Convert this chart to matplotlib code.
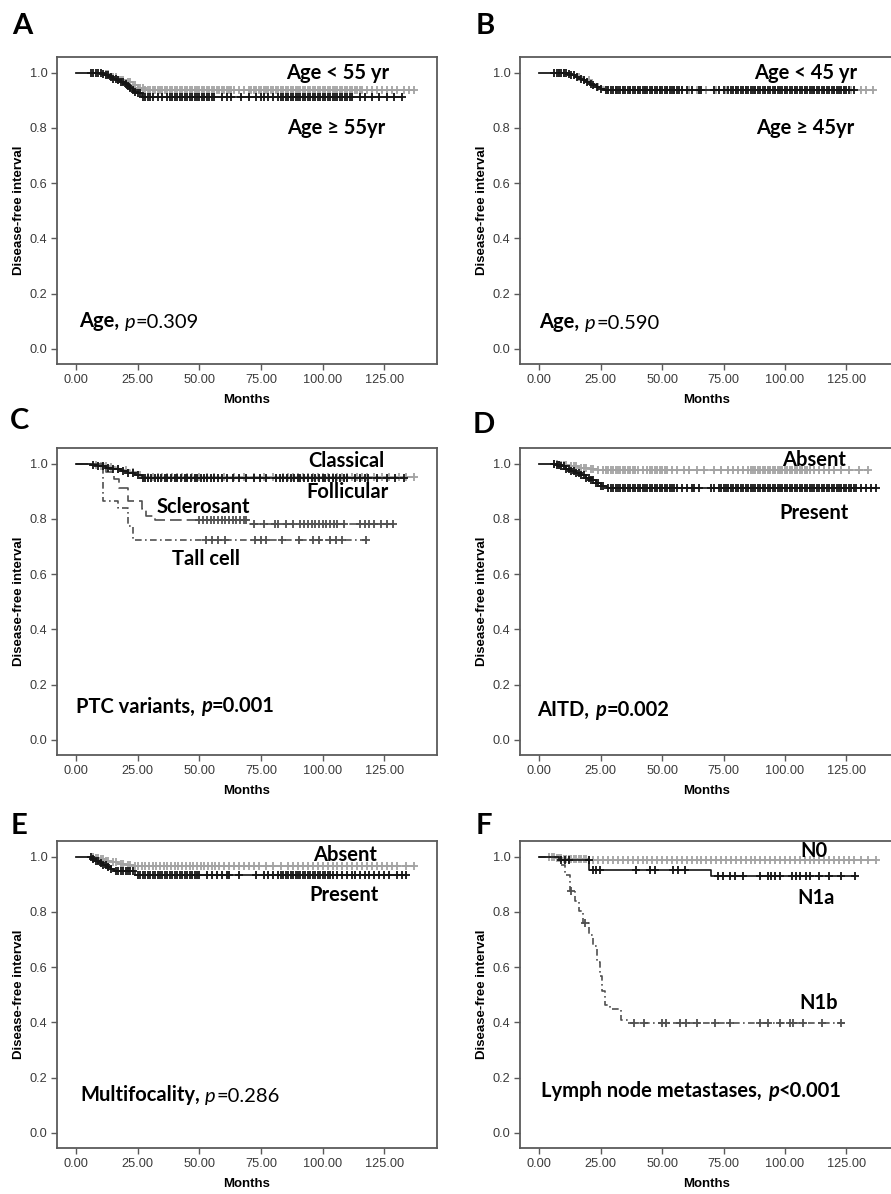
import numpy as np
import matplotlib.pyplot as plt

plt.rcParams['font.family'] = ['Liberation Sans', 'DejaVu Sans']
TXT = 'Lato'
W, H = 891, 1194

BLACK = '#151515'
GRAY = '#a3a3a3'
DASH = '#505050'

# ---------------- data (months, survival) ----------------
# A: age 55
a_old_t = [10.5, 12, 13.5, 15, 16.5, 18, 19.5, 21, 22, 23, 24, 25, 26.5]
a_old_s = [0.995, 0.99, 0.984, 0.978, 0.972, 0.966, 0.96, 0.953, 0.946, 0.939, 0.932, 0.925, 0.912]
a_old_end = 132
a_old_cens = [6, 7, 8, 9, 10, 11, 12, 13, 14, 15, 16, 17, 18, 19, 20, 21, 22, 23, 24, 25, 26,
              27, 28, 29, 30, 31, 33, 35, 37, 38, 39, 40, 41, 42, 43, 44, 45, 46, 47, 48, 49, 50,
              51, 52, 53, 54, 55, 56, 59, 61, 63, 67, 70, 73, 75, 76, 78, 80, 82, 83, 84, 85, 86,
              87, 88, 89, 90, 91, 92, 93, 94, 95, 96, 97, 98, 99, 100, 101, 102, 103, 104, 105,
              106, 107, 108, 109, 110, 111, 112, 115, 117, 120, 123, 126, 129, 132]
a_young_t = [11, 14, 17, 20, 23, 25, 27.5]
a_young_s = [0.995, 0.985, 0.975, 0.965, 0.955, 0.945, 0.936]
a_young_end = 137
a_young_cens = [12, 13, 15, 16, 18, 19, 21, 22, 24, 25, 26, 27, 28, 29, 30, 31, 32, 33, 34, 35,
                36, 37, 38, 39, 40, 41, 42, 43, 44, 45, 46, 47, 48, 49, 50, 51, 52, 53, 54, 55,
                56, 57, 58, 59, 60, 61, 62, 63, 64, 66, 68, 70, 71, 72, 73, 74, 75, 76, 77, 78,
                79, 80, 81, 82, 83, 84, 85, 86, 87, 88, 89, 90, 91, 92, 93, 94, 95, 96, 97, 98,
                99, 100, 101, 102, 103, 104, 105, 106, 107, 108, 109, 110, 111, 112, 113, 114,
                115, 116, 118, 120, 122, 124, 126, 128, 130, 133, 135, 137]

# B: age 45
b_old_t = [11.5, 13, 14.5, 16, 17.5, 19, 20.5, 22, 23.5, 25, 26.5]
b_old_s = [0.995, 0.99, 0.984, 0.978, 0.972, 0.966, 0.96, 0.954, 0.948, 0.942, 0.937]
b_old_end = 128
b_old_cens = [6, 7, 8, 9, 10, 11, 12, 13, 14, 15.5, 17, 18, 19.5, 21, 22, 23.5, 25, 27, 28, 29,
              30, 31, 32, 33, 34, 35, 36, 37, 38, 39, 40, 41, 42, 43, 44, 45, 46, 47, 48, 49, 50,
              51, 52, 53, 54, 55, 56, 57, 58, 60, 62, 65, 66, 71, 73, 75, 77, 78, 79, 80, 81, 82,
              83, 84, 85, 86, 87, 88, 89, 90, 91, 92, 93, 94, 95, 96, 97, 98, 99, 100, 101, 102,
              103, 104, 105, 106, 107, 108, 109, 110, 111, 112, 113, 114, 115, 116, 117, 118,
              119, 120, 121, 122, 123, 124, 125, 126, 128]
b_young_t = [12, 15, 18, 21, 24, 26.5]
b_young_s = [0.993, 0.983, 0.972, 0.961, 0.95, 0.938]
b_young_end = 136
b_young_cens = [8, 10, 16, 20, 24, 28, 31, 34, 37, 40, 43, 46, 49, 52, 55, 58, 61, 64, 68, 72,
                76, 80, 84, 88, 92, 96, 100, 104, 108, 112, 116, 120, 124, 127, 131, 133, 136]

# C: PTC variants
c_class_t = [7, 10, 13, 16, 19, 22, 25, 27]
c_class_s = [0.996, 0.992, 0.987, 0.982, 0.976, 0.969, 0.96, 0.953]
c_class_end = 137
c_class_cens = [8, 10, 12, 14, 17, 20, 23, 26, 29, 31, 33, 35, 37, 39, 41, 43, 45, 47, 50, 53,
                56, 60, 64, 68, 72, 76, 80, 84, 86, 88, 90, 92, 94, 96, 98, 100, 102, 104, 106,
                108, 110, 112, 114, 116, 118, 121, 124, 127, 131, 134, 137]
c_foll_t = [6, 9, 12, 15, 18, 21, 24, 26.5]
c_foll_s = [0.995, 0.99, 0.985, 0.98, 0.975, 0.968, 0.958, 0.95]
c_foll_end = 133
c_foll_cens = [7, 9, 11, 13, 15, 17, 19, 21, 23, 25, 27, 28, 29, 30.5, 32, 33, 34.5, 36, 37, 38.5,
               40, 41, 42.5, 44, 45, 46.5, 48, 49, 50.5, 52, 53, 54.5, 56, 57.5, 59, 61, 63.5, 66,
               69, 72, 74.5, 77, 81, 82.5, 84, 85.5, 87, 88.5, 90, 91, 92.5, 94, 95.5, 97, 98.5,
               100, 101, 102.5, 104, 105.5, 107, 108.5, 110, 113, 115, 117, 118.5, 122, 126,
               129.5, 133]
c_scl_t = [12, 15.5, 17.5, 21, 26.5, 28.5, 32, 69.8]
c_scl_s = [0.969, 0.944, 0.911, 0.864, 0.836, 0.81, 0.797, 0.782]
c_scl_end = 129
c_scl_cens = [50, 51.5, 53, 54.5, 56, 57.5, 59, 60.5, 62, 63.5, 65, 66.5, 68, 69, 72, 76, 80.5,
              82, 85, 88, 91, 92.5, 94, 95.5, 97, 98.5, 100, 101.5, 103, 104.5, 106, 108.5, 115,
              117, 119, 121, 123.5, 126, 128.5]
c_tall_t = [11, 17, 21, 23]
c_tall_s = [0.865, 0.84, 0.775, 0.725]
c_tall_end = 118
c_tall_cens = [52.5, 55, 57.5, 60.5, 72.5, 75, 77, 83.5, 90.5, 96, 98.5, 103, 105.5, 108, 117.5]

# D: AITD
d_pres_t = [7, 9, 11, 13, 15, 17, 19, 21, 23, 25, 27.5]
d_pres_s = [0.995, 0.99, 0.982, 0.975, 0.967, 0.958, 0.95, 0.94, 0.93, 0.92, 0.911]
d_pres_end = 137
d_pres_cens = [6, 7, 8, 9, 10, 11, 12, 13, 14, 15, 16, 17, 18, 19, 20, 21, 22, 23, 24, 25, 26,
               28, 29, 30, 31, 32, 33, 34, 35, 36, 37, 38, 39, 40, 41, 42, 43, 44, 45, 46, 47, 48,
               49, 50, 51, 52, 53, 54, 55, 56, 58, 60, 62, 63, 65, 70, 71, 73, 74, 75, 76, 77, 78,
               79, 80, 81, 82, 83, 84, 85, 86, 87, 88, 89, 90, 91, 92, 93, 94, 95, 96, 97, 98, 99,
               100, 101, 102, 103, 104, 105, 106, 107, 108, 109, 110, 111, 112, 113, 114, 115,
               116, 117, 118, 119, 120, 121, 122, 123, 124, 125, 126, 127, 128, 129, 131, 133,
               135, 137]
d_abs_t = [8, 12, 16, 20, 24]
d_abs_s = [0.995, 0.99, 0.985, 0.98, 0.977]
d_abs_end = 134
d_abs_cens = [6, 7, 8, 9, 10, 11, 13, 14, 15, 17, 18, 19, 21, 22, 24, 26, 27, 28, 29, 30, 31, 32,
              33, 34, 35, 36, 37, 38, 39, 40, 42, 44, 45, 46, 47, 48, 49, 50, 51, 52, 54, 56, 59,
              61, 64, 67, 71, 74, 77, 79, 81, 83, 85, 86, 87, 88, 89, 90, 91, 92, 93, 94, 95, 96,
              97, 98, 99, 100, 101, 102, 103, 104, 105, 106, 107, 108, 109, 110, 112, 114, 116,
              118, 120, 123, 126, 130, 134]

# E: multifocality
e_pres_t = [6.5, 8, 9.5, 11, 12.5, 14, 15.5, 24]
e_pres_s = [0.993, 0.986, 0.978, 0.97, 0.962, 0.955, 0.949, 0.933]
e_pres_end = 134
e_pres_cens = [6, 7, 8, 9, 10, 11, 12, 13, 14, 16, 17, 18, 19, 20, 21, 22, 23, 25, 26, 27, 28,
               29, 30, 31, 32, 33, 34, 35, 36, 37, 38, 39, 40, 41, 42, 43, 44, 45, 46, 47, 48, 49,
               50, 53, 55, 57, 59, 61, 62, 66, 73, 76, 78, 80, 82, 83, 84, 85, 86, 87, 88, 89, 90,
               91, 92, 93, 94, 95, 96, 97, 98, 99, 100, 101, 102, 103, 104, 106, 108, 110, 112,
               113, 115, 117, 119, 121, 123, 125, 127, 130, 132, 134]
e_abs_t = [8, 10, 12, 14, 17, 20, 23]
e_abs_s = [0.995, 0.99, 0.985, 0.98, 0.975, 0.97, 0.965]
e_abs_end = 137
e_abs_cens = [7, 8, 9, 10, 11, 12, 13, 15, 16, 18, 19, 21, 22, 24, 25, 26.5, 28, 29.5, 31, 32.5,
              34, 35.5, 37, 38.5, 40, 41.5, 43, 44.5, 46, 47.5, 49, 50.5, 52, 53.5, 55, 56.5, 58,
              60, 62, 64, 66, 68, 70, 72, 74, 77, 80, 83, 86, 88, 90, 92, 94, 96, 98, 100, 102,
              104, 106, 108, 110, 112, 114, 116, 118, 120, 122, 124, 126, 128, 130, 134, 137]

# F: lymph node metastases
f_n0_t = [7, 10, 14, 20]
f_n0_s = [0.997, 0.993, 0.99, 0.987]
f_n0_end = 137
f_n0_cens = [4, 5, 6, 7, 8, 9, 10, 11, 12, 13, 14, 15, 16, 17, 18, 19, 20, 22, 24, 26, 28, 30,
             32, 34, 36, 38, 40, 42, 44, 46, 48, 50, 52, 54, 56, 58, 60, 62, 64, 66, 68, 70, 72,
             74, 76, 78, 80, 82, 84, 86, 88, 90, 92, 94, 96, 98, 100, 102, 104, 106, 108, 110,
             112, 114, 116, 118, 120, 122, 124, 126, 128, 131, 134, 137]
f_n1a_t = [8, 20.4, 70]
f_n1a_s = [0.987, 0.951, 0.932]
f_n1a_end = 128.4
f_n1a_cens = [9, 10.5, 12, 20, 21.8, 23, 24.6, 39.5, 45, 47, 54.4, 56.4, 59.2, 72.8, 74.8, 77.5,
              79.5, 83, 89.7, 93, 94.5, 95.8, 97.8, 103, 104.5, 106, 108.7, 110, 114, 118, 123,
              128.4]
f_n1b_t = [9, 10.5, 12.3, 14.4, 16, 17.8, 20, 21.9, 23.5, 24.6, 25.5, 26.6, 28.6, 33.4, 36.1]
f_n1b_s = [0.97, 0.935, 0.875, 0.84, 0.803, 0.76, 0.718, 0.676, 0.62, 0.567, 0.515, 0.464,
           0.45, 0.41, 0.398]
f_n1b_end = 125
f_n1b_cens = [12.8, 18.5, 38.5, 42.6, 50, 51.4, 57.4, 59.5, 64.2, 71.6, 77.7, 89.9, 93.2, 98,
              102, 103.4, 107.4, 114.9, 123]

x_ticks = [0, 25, 50, 75, 100, 125]
y_ticks = [0.0, 0.2, 0.4, 0.6, 0.8, 1.0]


def km(ax, times, surv, end, cens, color, dashes=None, z=2, lw=1.2):
    times = np.asarray(times, float)
    surv = np.asarray(surv, float)
    x = np.r_[0, times, end]
    y = np.r_[1, surv, surv[-1]]
    line, = ax.step(x, y, where='post', color=color, lw=lw, zorder=z)
    if dashes:
        line.set_dashes(dashes)
    c = np.asarray(cens, float)
    idx = np.searchsorted(times, c, side='right')
    cy = np.r_[1, surv][idx]
    ax.plot(c, cy, ls='none', marker='+', ms=5.5, mew=1.3, color=color, zorder=z)


def rich(ax, x, y, parts, size=14.5):
    t = None
    for s, style, gap in parts:
        kw = dict(fontsize=size, family=TXT, color='black',
                  fontweight='bold' if 'b' in style else 'normal',
                  fontstyle='italic' if 'i' in style else 'normal')
        if t is None:
            t = ax.text(x, y, s, va='baseline', ha='left', **kw)
        else:
            t = ax.annotate(s, xy=(1, 0), xycoords=t, xytext=(gap, 0),
                            textcoords='offset points', va='bottom', ha='left', **kw)


def label(ax, x, y, s, size=14.5):
    ax.text(x, y, s, ha='center', va='center', fontsize=size, family=TXT,
            fontweight='bold', color='black')


fig = plt.figure(figsize=(W / 100, H / 100), dpi=100)

cols = [(57, 437, -7.8, 146.4), (520, 893, -7.9, 144.0)]
rows = [57, 448, 841]
letters = [('A', 12, 34), ('B', 476, 34), ('C', 10, 429), ('D', 473, 433),
           ('E', 11, 834), ('F', 476, 834)]


def make_ax(ci, ri):
    l, r, x0, x1 = cols[ci]
    t = rows[ri]
    b = t + 307
    ax = fig.add_axes([l / W, 1 - b / H, (r - l) / W, (b - t) / H])
    ax.set_xlim(x0, x1)
    ax.set_ylim(-0.055, 1.057)
    ax.set_xticks(x_ticks)
    ax.set_xticklabels(['%.2f' % v for v in x_ticks])
    ax.set_yticks(y_ticks)
    ax.set_yticklabels(['%.1f' % v for v in y_ticks])
    for sp in ax.spines.values():
        sp.set_color('#5a5a5a')
        sp.set_linewidth(1.3)
    ax.tick_params(direction='out', length=4.5, width=1.0, color='#5a5a5a',
                   labelcolor='#3a3a3a', labelsize=9.2, pad=2.5)
    ax.set_xlabel('Months', fontsize=9.5, fontweight='bold', labelpad=6)
    ax.set_ylabel('Disease-free interval', fontsize=9.5, fontweight='bold', labelpad=3)
    return ax


# A
ax = make_ax(0, 0)
km(ax, a_young_t, a_young_s, a_young_end, a_young_cens, GRAY)
km(ax, a_old_t, a_old_s, a_old_end, a_old_cens, BLACK, z=3)
label(ax, 106, 1.0, 'Age < 55 yr')
label(ax, 105.6, 0.8, 'Age ≥ 55yr')
rich(ax, 1.2, 0.08, [('Age,', 'b', 0), ('p', 'i', 4), ('=0.309', '', 0.3)])

# B
ax = make_ax(1, 0)
km(ax, b_young_t, b_young_s, b_young_end, b_young_cens, GRAY)
km(ax, b_old_t, b_old_s, b_old_end, b_old_cens, BLACK, z=3)
label(ax, 108.3, 1.0, 'Age < 45 yr')
label(ax, 108.2, 0.8, 'Age ≥ 45yr')
rich(ax, 0, 0.074, [('Age,', 'b', 0), ('p', 'i', 4), ('=0.590', '', 0.3)])

# C
ax = make_ax(0, 1)
km(ax, c_class_t, c_class_s, c_class_end, c_class_cens, GRAY)
km(ax, c_foll_t, c_foll_s, c_foll_end, c_foll_cens, BLACK, z=3)
km(ax, c_scl_t, c_scl_s, c_scl_end, c_scl_cens, DASH, dashes=(7, 3), z=2.5)
km(ax, c_tall_t, c_tall_s, c_tall_end, c_tall_cens, DASH, dashes=(4, 2, 1, 2), z=2.5)
label(ax, 109.5, 1.01, 'Classical')
label(ax, 110, 0.896, 'Follicular')
label(ax, 51.4, 0.842, 'Sclerosant')
label(ax, 52.5, 0.656, 'Tall cell')
rich(ax, 0, 0.099, [('PTC variants,', 'b', 0), ('p', 'bi', 4), ('=0.001', 'b', 0.3)])

# D
ax = make_ax(1, 1)
km(ax, d_abs_t, d_abs_s, d_abs_end, d_abs_cens, GRAY)
km(ax, d_pres_t, d_pres_s, d_pres_end, d_pres_cens, BLACK, z=3)
label(ax, 112, 1.013, 'Absent')
label(ax, 111.8, 0.82, 'Present')
rich(ax, -0.8, 0.087, [('AITD,', 'b', 0), ('p', 'bi', 4), ('=0.002', 'b', 0.3)])

# E
ax = make_ax(0, 2)
km(ax, e_abs_t, e_abs_s, e_abs_end, e_abs_cens, GRAY)
km(ax, e_pres_t, e_pres_s, e_pres_end, e_pres_cens, BLACK, z=3)
label(ax, 109, 1.007, 'Absent')
label(ax, 108.8, 0.86, 'Present')
rich(ax, 1.5, 0.116, [('Multifocality,', 'b', 0), ('p', 'i', 4), ('=0.286', '', 0.3)])

# F
ax = make_ax(1, 2)
km(ax, f_n0_t, f_n0_s, f_n0_end, f_n0_cens, GRAY)
km(ax, f_n1a_t, f_n1a_s, f_n1a_end, f_n1a_cens, BLACK, z=3)
km(ax, f_n1b_t, f_n1b_s, f_n1b_end, f_n1b_cens, DASH, dashes=(4, 2, 1, 2), z=2.5)
label(ax, 111.8, 1.02, 'N0')
label(ax, 112.8, 0.851, 'N1a')
label(ax, 113.8, 0.47, 'N1b')
rich(ax, 0.8, 0.13, [('Lymph node metastases,', 'b', 0), ('p', 'bi', 4), ('<0.001', 'b', 0.3)])

for s, x, y in letters:
    fig.text(x / W, 1 - y / H, s, fontsize=21, fontweight='bold', family=TXT,
             ha='left', va='baseline')

fig.savefig('out.png', dpi=100)
